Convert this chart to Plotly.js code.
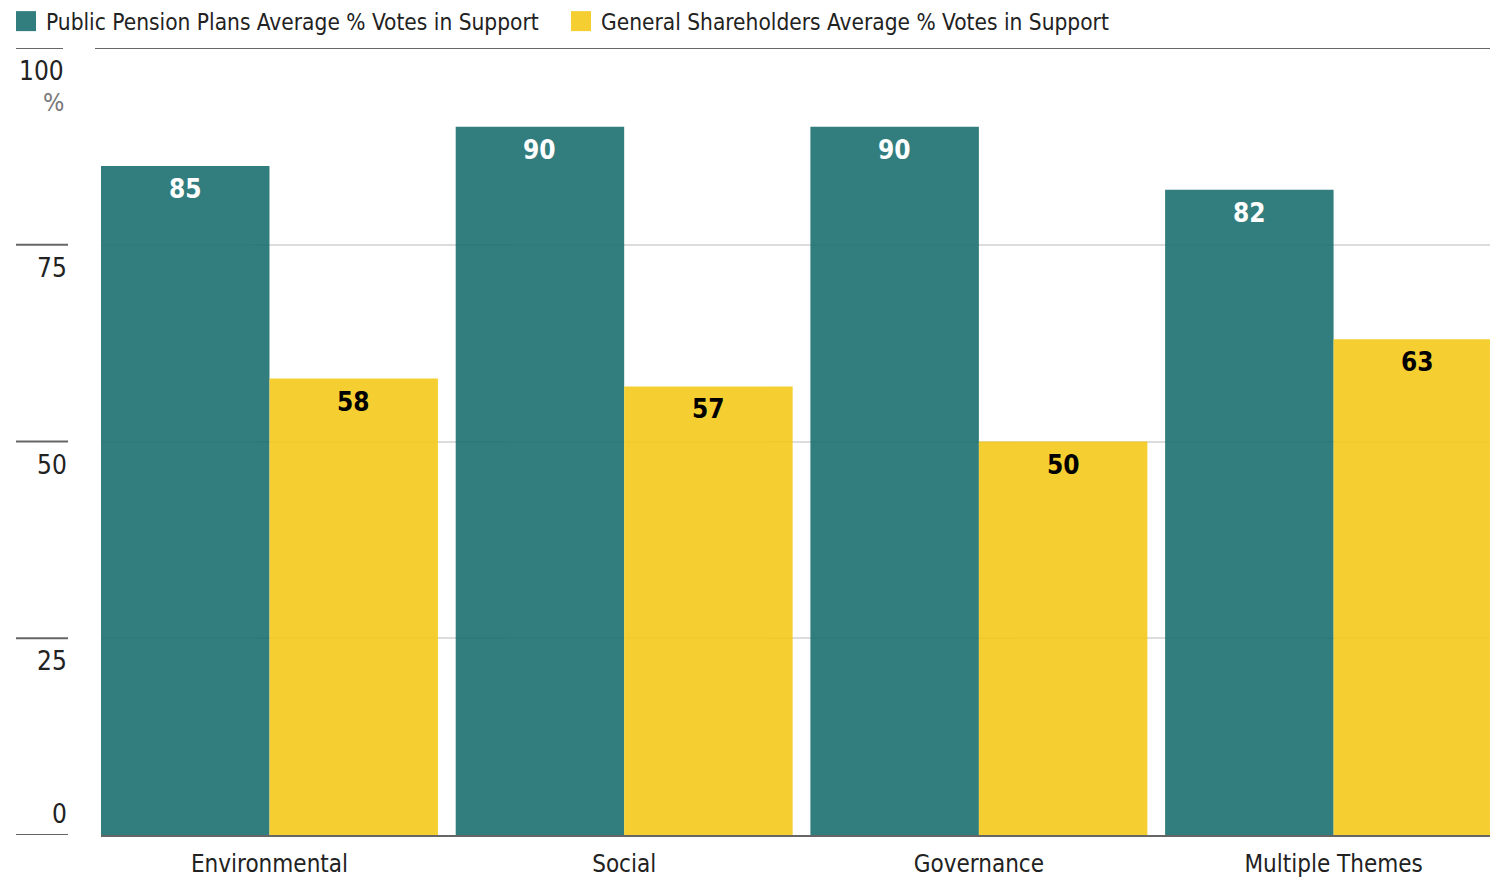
<!DOCTYPE html>
<html>
<head>
<meta charset="utf-8">
<script src="https://cdn.plot.ly/plotly-3.0.1.min.js"></script>
<style>html,body{margin:0;padding:0;background:#fff}#chart{width:1490px;height:879px}</style>
</head>
<body>
<div id="chart"></div>
<script>
const categories = ["Environmental", "Social", "Governance", "Multiple Themes"];
const pensionValues = [85, 90, 90, 82];
const generalValues = [58, 57, 50, 63];
const seriesNames = ["Public Pension Plans Average % Votes in Support", "General Shareholders Average % Votes in Support"];
const yTicks = [0, 25, 50, 75, 100];
const yTickLabels = ["0", "25", "50", "75", "100"];

const FONT = '"DejaVu Sans Condensed", "Liberation Sans Narrow", "Roboto Condensed", "Arial Narrow", sans-serif';
const TEAL = "rgb(28,112,112)";
const YELLOW = "rgb(244,202,28)";
const W = 1490, H = 879, L = 101;
const plotW = W - L;
const px = v => (v - L) / plotW; // pixel -> paper

const traces = [
  {type: "bar", name: seriesNames[0], x: categories, y: pensionValues,
   marker: {color: TEAL, line: {width: 0}}, opacity: 0.9, hoverinfo: "none"},
  {type: "bar", name: seriesNames[1], x: categories, y: generalValues,
   marker: {color: YELLOW, line: {width: 0}}, opacity: 0.9, hoverinfo: "none"}
];

const annotations = [];
const shapes = [];
const half = (1 - 0.05) / 4;
categories.forEach((c, i) => {
  annotations.push({x: i - half, y: pensionValues[i], xref: "x", yref: "y", text: String(pensionValues[i]),
    showarrow: false, yanchor: "top", yshift: -6, font: {family: FONT, size: 26, color: "#ffffff", weight: "bold"}});
  annotations.push({x: i + half, y: generalValues[i], xref: "x", yref: "y", text: String(generalValues[i]),
    showarrow: false, yanchor: "top", yshift: -6, font: {family: FONT, size: 26, color: "#000000", weight: "bold"}});
});
yTicks.forEach((t, i) => {
  annotations.push({x: px(t === 100 ? 66 : 69), y: t, xref: "paper", yref: "y", xanchor: "right",
    yanchor: t === 0 ? "bottom" : "top", yshift: t === 0 ? 4 : -6, showarrow: false,
    text: yTickLabels[i], font: {family: FONT, size: 26, color: "#222"}});
  shapes.push({type: "line", xref: "paper", yref: "y", x0: px(16), x1: px(t === 100 ? 63 : 68), y0: t, y1: t,
    line: {color: "#666", width: 2}});
});
annotations.push({x: px(66), y: 100, xref: "paper", yref: "y", xanchor: "right", yanchor: "top", yshift: -38,
  showarrow: false, text: "%", font: {family: FONT, size: 25, color: "#777"}});
shapes.push({type: "line", xref: "paper", yref: "y", x0: px(95), x1: 1, y0: 100, y1: 100,
  line: {color: "#666", width: 2}});

const layout = {
  width: W, height: H,
  margin: {l: L, r: 0, t: 48, b: 44, pad: 0, autoexpand: false},
  paper_bgcolor: "#fff", plot_bgcolor: "#fff",
  barmode: "group", bargap: 0.05, bargroupgap: 0,
  font: {family: FONT, color: "#222"},
  showlegend: true,
  legend: {orientation: "h", xref: "container", x: 6 / W, xanchor: "left",
    yref: "container", y: 1, yanchor: "top",
    font: {family: FONT, size: 22.5, color: "#222"}, bgcolor: "rgba(0,0,0,0)",
    entrywidth: 510, entrywidthmode: "pixels", itemwidth: 30, tracegroupgap: 0},
  xaxis: {type: "category", range: [-0.475, 3.441], showgrid: false, zeroline: false,
    showline: true, linecolor: "#666", linewidth: 2, layer: "below traces",
    ticks: "", ticklabelstandoff: 6, tickfont: {family: FONT, size: 24, color: "#222"}, fixedrange: true},
  yaxis: {range: [0, 100], tickvals: [25, 50, 75], showticklabels: false, showgrid: true,
    gridcolor: "#dcdcdc", gridwidth: 2, zeroline: false, showline: false, ticks: "",
    layer: "below traces", fixedrange: true},
  annotations: annotations,
  shapes: shapes
};

Plotly.newPlot("chart", traces, layout, {displayModeBar: false, staticPlot: true}).then(gd => {
  // larger square swatches, as in the reference
  gd.querySelectorAll(".legendpoints path").forEach(p => {
    p.setAttribute("d", "M10,10H-10V-10H10Z");
  });
});
</script>
</body>
</html>
